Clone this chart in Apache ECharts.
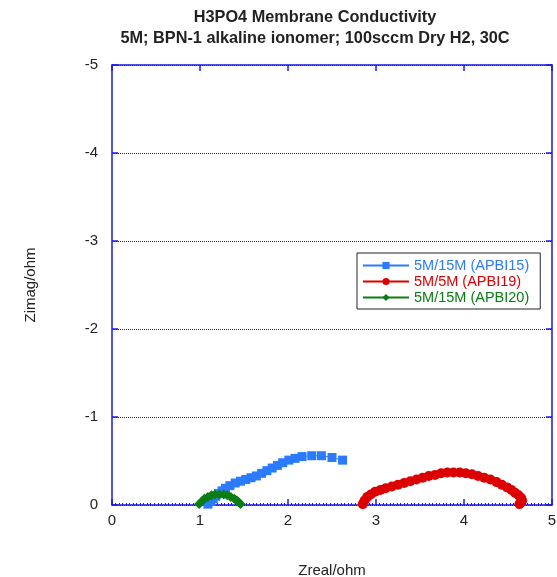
<!DOCTYPE html>
<html>
<head>
<meta charset="utf-8">
<script src="https://cdn.jsdelivr.net/npm/echarts@6/dist/echarts.min.js"></script>
<style>
  html, body { margin: 0; padding: 0; background: #fff; }
  #chart { width: 557px; height: 577px; }
</style>
</head>
<body>
<div id="chart"></div>
<script>
// Impedance (Nyquist) data: Zreal [ohm], Zimag [ohm]
const apbi15Re = [1.09, 1.12, 1.15, 1.18, 1.21, 1.25, 1.29, 1.34, 1.40, 1.46, 1.52, 1.58, 1.64, 1.70, 1.76, 1.82, 1.88, 1.94, 2.01, 2.08, 2.16, 2.27, 2.38, 2.50, 2.62];
const apbi15Im = [-0.01, -0.04, -0.07, -0.10, -0.13, -0.16, -0.19, -0.22, -0.25, -0.27, -0.29, -0.31, -0.33, -0.36, -0.39, -0.42, -0.45, -0.48, -0.51, -0.53, -0.55, -0.56, -0.56, -0.54, -0.51];

const apbi19Re = [2.85, 2.87, 2.90, 2.94, 2.99, 3.05, 3.11, 3.18, 3.25, 3.32, 3.39, 3.46, 3.53, 3.60, 3.67, 3.74, 3.81, 3.88, 3.95, 4.02, 4.09, 4.16, 4.23, 4.30, 4.37, 4.43, 4.49, 4.54, 4.58, 4.62, 4.65, 4.66, 4.65, 4.63];
const apbi19Im = [-0.01, -0.05, -0.09, -0.12, -0.15, -0.17, -0.19, -0.21, -0.23, -0.25, -0.27, -0.29, -0.31, -0.33, -0.34, -0.36, -0.37, -0.37, -0.37, -0.36, -0.35, -0.33, -0.31, -0.29, -0.26, -0.23, -0.20, -0.17, -0.14, -0.11, -0.08, -0.05, -0.03, -0.01];

const apbi20Re = [0.99, 1.02, 1.05, 1.09, 1.13, 1.17, 1.22, 1.27, 1.31, 1.35, 1.39, 1.42, 1.44, 1.46];
const apbi20Im = [-0.01, -0.04, -0.07, -0.09, -0.11, -0.12, -0.12, -0.12, -0.11, -0.09, -0.07, -0.05, -0.03, -0.01];

const seriesNames = ['5M/15M (APBI15)', '5M/5M (APBI19)', '5M/15M (APBI20)'];
const seriesColors = ['#2a7bff', '#dd0000', '#0a7d14'];

const xTicks = [0, 1, 2, 3, 4, 5];
const yTicks = [-5, -4, -3, -2, -1, 0];

const zip = (a, b) => a.map((v, i) => [v, b[i]]);

const FONT = '"Liberation Sans", Arial, sans-serif';
const AXIS_BLUE = '#1a1ae6';

const chart = echarts.init(document.getElementById('chart'), null, { renderer: 'canvas' });

const baseX = {
  type: 'value',
  min: xTicks[0],
  max: xTicks[xTicks.length - 1],
  interval: 1,
  axisLine: { show: true, onZero: false, lineStyle: { color: AXIS_BLUE, width: 1.5 } },
  axisTick: { show: true, inside: true, length: 6, lineStyle: { color: AXIS_BLUE, width: 1.5 } },
  splitLine: { show: false }
};
const baseY = {
  type: 'value',
  inverse: true,
  min: yTicks[0],
  max: yTicks[yTicks.length - 1],
  interval: 1,
  axisLine: { show: true, onZero: false, lineStyle: { color: AXIS_BLUE, width: 1.5 } },
  axisTick: { show: true, inside: true, length: 6, lineStyle: { color: AXIS_BLUE, width: 1.5 } }
};

chart.setOption({
  animation: false,
  backgroundColor: '#fff',
  title: {
    text: 'H3PO4 Membrane Conductivity\n5M; BPN-1 alkaline ionomer; 100sccm Dry H2, 30C',
    left: 310,
    textAlign: 'center',
    top: 2,
    textStyle: { fontFamily: FONT, fontSize: 16.3, fontWeight: 'bold', color: '#222', lineHeight: 21 }
  },
  legend: {
    orient: 'vertical',
    left: 357,
    top: 253,
    padding: [5, 11, 4, 5],
    itemGap: 1,
    itemWidth: 46,
    itemHeight: 9,
    borderColor: '#222',
    borderWidth: 1,
    backgroundColor: '#fff',
    textStyle: { fontFamily: FONT, fontSize: 14.5 },
    data: seriesNames.map((n, i) => ({ name: n, textStyle: { color: seriesColors[i] } }))
  },
  grid: { left: 112, right: 5, top: 65, bottom: 72, containLabel: false, outerBoundsMode: 'none' },
  xAxis: [
    Object.assign({}, baseX, {
      position: 'bottom',
      name: 'Zreal/ohm',
      nameLocation: 'middle',
      nameGap: 58,
      nameTextStyle: { fontFamily: FONT, fontSize: 15, color: '#222' },
      axisLabel: { fontFamily: FONT, fontSize: 15, color: '#222', margin: 8 },
      minorTick: { show: true, splitNumber: 25, length: 2, lineStyle: { color: AXIS_BLUE, width: 1 } }
    }),
    Object.assign({}, baseX, { position: 'top', axisLabel: { show: false } })
  ],
  yAxis: [
    Object.assign({}, baseY, {
      position: 'left',
      name: 'Zimag/ohm',
      nameLocation: 'middle',
      nameGap: 74,
      nameTextStyle: { fontFamily: FONT, fontSize: 15, color: '#222' },
      axisLabel: { fontFamily: FONT, fontSize: 15, color: '#222', margin: 14 },
      splitLine: { show: true, lineStyle: { color: AXIS_BLUE, type: [1, 1], width: 1 } }
    }),
    Object.assign({}, baseY, { position: 'right', axisLabel: { show: false }, splitLine: { show: false } })
  ],
  series: [
    {
      name: seriesNames[0], type: 'line', data: zip(apbi15Re, apbi15Im),
      symbol: 'rect', symbolSize: 9, color: seriesColors[0],
      lineStyle: { width: 1, color: seriesColors[0] }, itemStyle: { color: seriesColors[0] }
    },
    {
      name: seriesNames[1], type: 'line', data: zip(apbi19Re, apbi19Im),
      symbol: 'circle', symbolSize: 10, color: seriesColors[1],
      lineStyle: { width: 1, color: seriesColors[1] }, itemStyle: { color: seriesColors[1] }
    },
    {
      name: seriesNames[2], type: 'line', data: zip(apbi20Re, apbi20Im),
      symbol: 'diamond', symbolSize: 10, color: seriesColors[2],
      lineStyle: { width: 1, color: seriesColors[2] }, itemStyle: { color: seriesColors[2] }
    }
  ]
});
</script>
</body>
</html>
